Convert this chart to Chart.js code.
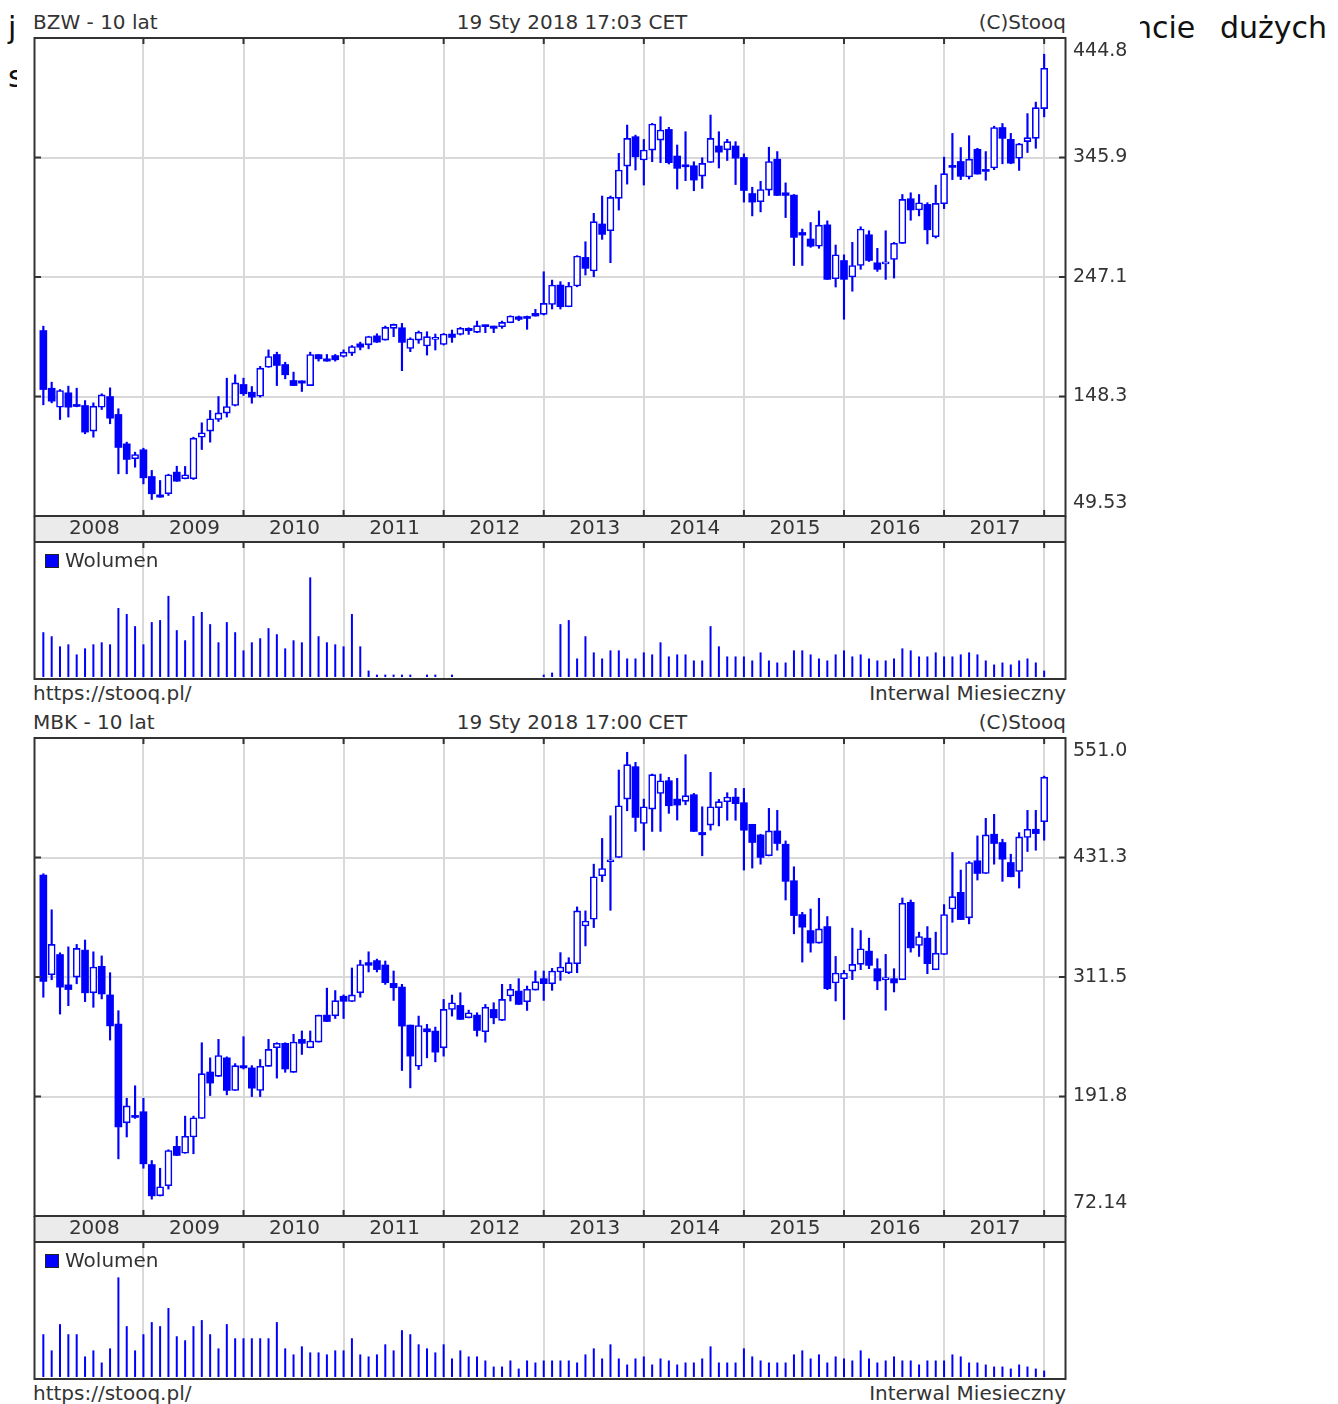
<!DOCTYPE html>
<html>
<head>
<meta charset="utf-8">
<script src="https://cdn.jsdelivr.net/npm/chart.js@4.4.1/dist/chart.umd.min.js"></script>
<style>
  body { margin: 0; width: 1338px; height: 1404px; position: relative; overflow: hidden; background: #fff; font-family: 'DejaVu Sans'; }
  .bg { position: absolute; font-size: 30px; line-height: 30px; color: #111; white-space: nowrap; }
  .sheet { position: absolute; left: 17px; top: 0; width: 1123px; height: 1404px; background: #fff; }
  .t { position: absolute; font-size: 20px; line-height: 20px; color: #333; white-space: nowrap; }
  .box { position: absolute; width: 12px; height: 12px; background: #0000ff; border: 1px solid #222; }
  canvas { position: absolute; left: 0; }
</style>
</head>
<body>
<div class="bg" style="left:8px;top:13px">j</div>
<div class="bg" style="left:8px;top:62px">s</div>
<div class="bg" style="left:1133px;top:13px">ncie</div>
<div class="bg" style="left:1220px;top:13px">dużych</div>
<div class="sheet"></div>

<div class="t" style="left:33px;top:12px">BZW - 10 lat</div>
<div class="t" style="left:572px;top:12px;transform:translateX(-50%)">19 Sty 2018 17:03 CET</div>
<div class="t" style="right:272px;top:12px">(C)Stooq</div>
<canvas id="bzwPrice" width="1140" height="511" style="top:30px"></canvas>
<canvas id="bzwVol" width="1140" height="140" style="top:541px"></canvas>
<div class="box" style="left:45px;top:554px"></div>
<div class="t" style="left:65px;top:550px">Wolumen</div>
<div class="t" style="left:33px;top:683px">https://stooq.pl/</div>
<div class="t" style="right:272px;top:683px">Interwal Miesieczny</div>

<div class="t" style="left:33px;top:712px">MBK - 10 lat</div>
<div class="t" style="left:572px;top:712px;transform:translateX(-50%)">19 Sty 2018 17:00 CET</div>
<div class="t" style="right:272px;top:712px">(C)Stooq</div>
<canvas id="mbkPrice" width="1140" height="511" style="top:730px"></canvas>
<canvas id="mbkVol" width="1140" height="140" style="top:1241px"></canvas>
<div class="box" style="left:45px;top:1254px"></div>
<div class="t" style="left:65px;top:1250px">Wolumen</div>
<div class="t" style="left:33px;top:1383px">https://stooq.pl/</div>
<div class="t" style="right:272px;top:1383px">Interwal Miesieczny</div>

<script>
const BLUE = '#0000ff';
const GRID = '#d9d9d9';
const FRAME = '#333333';

// months 0..120 = Jan 2008 .. Jan 2018
const yearTicks = [0, 12, 24, 36, 48, 60, 72, 84, 96, 108, 120];
const yearLabels = ['2008', '2009', '2010', '2011', '2012', '2013', '2014', '2015', '2016', '2017', ''];
const xMin = -1;
const xMax = 122.5;

// BZW monthly candles
const bzwOpen = [202.9,155.2,139.5,151.4,141.7,140.9,119.7,139.5,148.3,133.5,109.2,96.8,104.3,82.2,67.0,67.9,85.8,80.3,80.3,114.7,
  119.7,129.3,134.6,140.9,158.3,151.9,148.6,172.6,183.1,174.8,161.6,161.3,157.4,183.0,179.5,182.2,181.4,184.2,191.9,191.1,
  198.5,195.0,204.7,205.2,188.1,195.0,190.1,195.6,191.4,200.0,199.7,204.7,201.4,206.6,206.6,206.1,209.4,214.3,214.3,217.1,
  216.3,224.5,240.5,222.6,239.7,263.4,252.1,291.0,285.4,312.2,338.9,363.2,343.9,352.1,360.4,369.2,347.2,339.7,339.2,330.6,
  341.9,355.5,352.3,355.5,346.0,316.2,309.4,319.0,344.6,316.8,314.9,284.0,278.6,272.6,290.3,245.8,260.8,247.2,256.7,282.1,
  258.9,258.0,261.6,275.0,311.9,302.6,307.2,280.5,307.8,339.4,342.7,329.9,352.8,335.9,337.3,370.8,361.0,345.4,359.1,361.8,
  386.4];
const bzwHigh = [206.5,160.2,154.1,156.9,155.2,145.0,143.1,150.6,155.5,138.2,110.6,102.3,105.6,87.2,78.9,84.1,90.7,90.5,114.7,126.6,
  136.8,148.3,163.5,166.3,163.5,156.6,173.2,186.9,185.0,176.7,168.5,161.3,185.0,183.1,183.1,183.1,186.9,190.5,193.3,198.2,
  200.2,206.6,208.3,208.8,196.9,202.5,201.9,200.0,200.5,203.3,205.5,205.2,210.7,207.4,206.6,210.7,215.1,214.9,214.9,220.4,
  251.5,244.6,243.3,242.7,264.8,276.3,299.8,314.1,314.1,349.4,372.8,364.5,360.9,374.2,379.7,370.9,356.3,367.3,342.5,345.8,
  381.1,367.3,361.0,359.1,349.0,321.4,326.3,354.5,350.9,325.0,315.4,286.8,292.2,301.8,293.6,273.6,265.5,275.8,288.7,285.4,
  270.9,285.4,275.8,315.4,316.8,315.4,308.6,323.1,346.3,365.9,354.2,364.0,353.6,350.9,371.9,374.1,365.9,357.7,382.3,391.8,
  431.4];
const bzwLow = [141.5,143.1,129.3,131.3,139.8,117.5,114.7,137.6,125.8,84.4,84.4,89.9,76.1,63.2,65.0,66.5,78.2,80.2,79.7,104.5,
  110.6,127.7,131.3,140.5,149.2,142.8,147.8,172.4,157.4,163.0,157.3,152.5,157.3,177.6,177.5,177.6,180.9,182.2,186.9,187.8,
  193.0,194.9,197.8,169.7,185.4,192.3,182.6,186.8,190.9,193.1,199.2,199.7,201.1,201.1,201.1,204.7,209.3,211.0,203.9,214.8,
  215.7,220.7,220.7,222.5,239.1,248.8,247.4,278.3,259.0,302.5,324.0,335.6,323.2,342.5,341.7,340.6,319.9,326.8,318.5,320.4,
  341.8,337.3,343.5,323.6,309.1,297.7,301.0,314.6,314.5,296.3,256.7,256.7,271.7,270.9,245.1,238.9,212.2,235.4,253.5,260.0,
  251.8,245.2,246.3,274.9,294.1,297.7,274.5,279.4,303.7,327.7,327.7,328.2,332.2,327.2,335.9,340.8,340.8,335.3,350.1,353.6,
  379.6];
const bzwClose = [154.1,144.5,153.3,139.5,140.1,118.9,140.4,149.7,130.4,106.2,96.3,100.4,81.1,67.9,65.1,83.6,78.3,83.6,113.9,118.3,
  129.9,134.8,140.1,159.6,150.6,147.8,171.8,181.4,174.0,166.3,157.4,159.4,183.1,179.5,177.6,178.7,185.0,189.7,189.1,198.0,
  193.3,205.5,208.0,193.1,196.1,201.4,197.8,196.9,200.0,197.2,204.7,202.8,206.9,206.1,204.7,209.6,214.9,212.1,212.9,214.9,
  225.3,240.5,222.6,239.7,264.5,254.3,292.9,282.4,313.0,335.6,361.8,346.6,352.1,373.6,368.7,341.7,337.0,338.3,327.3,341.1,
  361.8,350.4,359.1,345.4,318.7,309.1,319.5,342.7,314.6,314.6,279.9,281.8,272.6,290.0,245.2,265.5,245.2,256.7,286.8,260.8,
  253.5,258.9,275.0,311.3,302.6,308.6,286.2,308.0,332.6,337.8,330.4,344.6,332.3,334.5,370.8,361.8,341.3,357.2,362.4,387.2,
  419.7];
const bzwVolume = [133,121,91,97,67,85,97,103,97,205,187,151,97,163,169,241,139,109,181,193,
  157,103,163,133,79,103,115,145,127,85,109,103,296,121,103,97,91,187,91,19,
  7,7,7,7,7,0,7,7,0,7,0,0,0,0,0,0,0,0,0,0,
  7,13,157,169,55,121,73,55,79,79,55,55,73,67,103,61,67,67,49,49,
  151,91,61,61,61,49,73,49,43,43,79,79,67,55,49,67,79,61,67,55,
  49,49,55,85,79,61,61,73,61,61,67,73,67,49,37,43,37,49,55,43,
  19];
const bzwMin = 49.53;
const bzwMax = 444.8;
const bzwAxis = ['49.53', '148.3', '247.1', '345.9', '444.8'];

// MBK monthly candles
const mbkOpen = [413.7,313.9,334.1,303.7,311.5,338.5,295.7,322.3,293.6,264.3,165.5,172.6,176.6,123.7,92.3,102.4,141.9,135.1,151.3,169.9,
  216.4,212.0,230.6,197.9,222.8,220.5,197.9,222.1,240.7,245.1,216.1,249.1,240.7,246.4,273.4,272.7,292.3,287.0,295.7,326.0,
  328.0,323.6,305.2,301.5,263.4,222.2,259.7,257.4,240.6,279.1,283.1,270.7,273.4,256.7,279.1,268.1,292.5,297.5,286.8,298.5,
  309.9,304.9,316.6,315.9,324.9,362.7,369.4,412.9,427.0,431.3,489.8,522.3,465.4,479.8,495.5,508.2,489.8,487.5,494.2,456.4,
  463.7,481.2,487.2,491.8,486.2,464.5,453.9,433.0,457.9,444.6,408.0,374.1,358.1,345.5,362.1,305.6,309.9,317.5,324.2,337.5,
  319.9,308.9,309.9,308.9,386.4,343.2,350.5,318.9,334.2,379.7,396.4,370.8,428.0,415.3,454.6,446.3,426.3,417.3,451.3,459.6,
  467.2];
const mbkHigh = [415.0,378.9,335.8,341.8,344.2,348.6,336.8,332.7,315.9,277.8,190.1,202.6,190.1,127.7,120.0,138.5,152.0,172.2,172.2,245.7,
  230.6,249.1,231.6,224.8,251.8,222.8,228.9,249.1,245.7,245.7,254.2,257.5,257.5,273.4,300.4,298.0,293.6,320.6,328.4,336.8,
  329.5,327.6,317.6,304.2,263.4,272.4,264.1,261.4,289.1,293.5,295.8,278.4,275.8,284.1,285.8,304.2,304.2,309.9,302.5,317.6,
  317.6,320.2,336.0,330.9,381.8,377.8,424.6,450.4,473.1,518.9,536.7,526.6,489.8,514.9,514.9,511.6,510.6,534.3,495.5,482.1,
  516.6,489.5,496.2,500.5,500.5,464.6,454.6,480.5,478.5,447.9,422.0,376.4,379.7,390.4,372.1,332.2,318.2,360.5,358.1,350.5,
  329.9,334.2,319.9,390.7,388.7,356.5,362.1,356.5,384.1,436.3,418.7,427.3,452.9,470.5,474.5,449.6,434.6,456.2,478.5,478.5,
  512.8];
const mbkLow = [291.3,308.8,274.4,282.8,304.8,286.9,281.2,289.6,248.4,129.4,151.3,169.9,120.0,89.0,92.2,99.1,132.7,135.0,134.5,169.8,
  192.8,211.9,193.5,197.8,219.4,191.8,191.8,222.0,210.3,216.1,216.0,234.0,240.6,246.3,266.9,270.0,270.0,286.9,291.3,316.6,
  316.6,304.2,288.1,217.9,200.5,218.9,230.6,226.6,232.3,272.4,269.0,270.6,252.3,246.3,264.7,268.0,287.5,284.0,278.1,298.4,
  288.1,298.2,308.2,314.9,315.9,342.7,361.1,407.2,378.4,431.2,478.1,457.4,438.7,457.4,457.4,475.5,468.8,484.1,457.3,433.0,
  458.7,462.9,468.6,468.6,418.7,420.7,424.6,432.9,438.6,388.7,354.8,326.5,336.5,345.4,298.9,287.6,269.0,308.9,318.9,319.9,
  298.9,278.3,296.6,308.8,336.5,332.2,314.9,318.8,334.1,366.4,369.0,364.8,408.7,415.2,424.6,407.4,411.9,400.7,437.3,438.6,
  448.6];
const mbkClose = [307.1,344.2,301.4,299.0,340.2,295.7,321.6,294.6,262.6,161.4,182.4,170.9,124.4,92.3,101.4,137.8,132.8,152.0,170.5,214.7,
  205.3,232.9,197.9,222.8,220.5,200.2,222.1,239.0,245.1,219.4,246.4,245.1,247.4,273.3,267.0,287.9,287.2,293.6,324.0,323.3,
  319.0,305.9,300.8,262.4,232.3,263.0,256.7,236.3,279.1,285.8,269.1,275.8,258.0,281.4,270.7,289.1,299.2,284.1,299.2,306.9,
  304.9,317.6,321.6,325.9,377.8,367.7,411.9,420.3,428.3,483.1,524.3,471.4,482.1,514.3,508.2,483.1,483.8,493.2,457.4,454.0,
  482.1,487.2,491.8,485.2,458.6,446.3,431.3,457.9,445.3,407.4,373.1,361.5,345.5,359.8,299.9,315.6,315.6,324.2,339.8,323.2,
  307.6,310.6,305.6,385.4,340.8,352.1,324.9,335.5,374.1,392.1,369.1,426.3,415.3,453.9,445.3,429.6,412.0,451.9,459.6,455.2,
  511.8];
const mbkVolume = [127,79,157,127,127,61,79,43,85,296,151,79,127,163,151,205,121,109,151,169,
  127,85,157,115,115,115,115,115,163,85,67,91,73,73,67,79,79,115,67,61,
  67,97,79,139,127,97,85,73,97,55,79,61,61,49,31,31,49,25,49,43,
  49,49,49,49,43,67,85,55,97,55,37,55,61,37,55,49,37,43,43,55,
  91,43,43,43,85,61,49,43,43,43,67,79,55,67,43,61,55,49,79,55,
  43,49,61,49,49,37,49,49,49,67,61,43,43,37,31,31,25,37,31,25,
  19];
const mbkMin = 72.14;
const mbkMax = 551.0;
const mbkAxis = ['72.14', '191.8', '311.5', '431.3', '551.0'];

// volume axis range (baseline sits slightly above the frame)
const volMin = -6;
const volMax = 404;

function candleSets(open, high, low, close) {
  const up = [], down = [], wick = [];
  open.forEach((o, i) => {
    wick.push({ x: i, y: [low[i], high[i]] });
    if (close[i] >= o) up.push({ x: i, y: [o, close[i]] });
    else down.push({ x: i, y: [close[i], o] });
  });
  return [
    { data: up, backgroundColor: '#ffffff', borderColor: BLUE, borderWidth: 1.6, borderSkipped: false, barThickness: 7, minBarLength: 2, order: 0 },
    { data: down, backgroundColor: BLUE, borderWidth: 0, barThickness: 7, minBarLength: 2, order: 0 },
    { data: wick, backgroundColor: BLUE, borderWidth: 0, barThickness: 1.5, order: 1 }
  ];
}

const yearAxis = {
  type: 'linear',
  min: xMin,
  max: xMax,
  offset: false,
  afterBuildTicks: s => { s.ticks = yearTicks.map(v => ({ value: v })); },
  grid: {
    offset: false,
    drawTicks: false,
    lineWidth: 2,
    color: c => (c.tick && c.tick.value === 0) ? 'rgba(0,0,0,0)' : GRID
  },
  border: { display: false }
};

function priceFrame(axisLabels) {
  return {
    id: 'priceFrame',
    beforeDraw(chart) {
      const { ctx, chartArea: a } = chart;
      ctx.save();
      ctx.fillStyle = '#ebebeb';
      ctx.fillRect(a.left, a.bottom, a.right - a.left, 25);
      ctx.restore();
    },
    afterDraw(chart) {
      const { ctx, chartArea: a, scales } = chart;
      const n = axisLabels.length;
      ctx.save();
      ctx.strokeStyle = FRAME;
      ctx.lineWidth = 2;
      ctx.strokeRect(a.left - 0.5, a.top, a.right - a.left + 1, a.bottom - a.top);
      ctx.beginPath();
      ctx.moveTo(a.left - 0.5, a.bottom); ctx.lineTo(a.left - 0.5, a.bottom + 25);
      ctx.moveTo(a.right + 0.5, a.bottom); ctx.lineTo(a.right + 0.5, a.bottom + 25);
      scales.x.ticks.forEach(t => {
        if (t.value === 0) return;
        const x = scales.x.getPixelForValue(t.value);
        ctx.moveTo(x, a.top); ctx.lineTo(x, a.top + 6);
        ctx.moveTo(x, a.bottom); ctx.lineTo(x, a.bottom - 6);
      });
      scales.y.ticks.forEach((t, k) => {
        if (k === 0 || k === n - 1) return;
        const y = scales.y.getPixelForValue(t.value);
        ctx.moveTo(a.left, y); ctx.lineTo(a.left + 6, y);
        ctx.moveTo(a.right, y); ctx.lineTo(a.right - 6, y);
      });
      ctx.stroke();

      // right axis labels, edge labels pulled inside the frame
      ctx.fillStyle = '#333';
      ctx.font = '19px "DejaVu Sans"';
      ctx.textAlign = 'left';
      ctx.textBaseline = 'middle';
      scales.y.ticks.forEach((t, k) => {
        let y = scales.y.getPixelForValue(t.value);
        if (k === 0) y -= 13;
        if (k === n - 1) y += 13;
        ctx.fillText(axisLabels[k], a.right + 8, y);
      });
      ctx.restore();
    }
  };
}

const volumeFrame = {
  id: 'volumeFrame',
  afterDraw(chart) {
    const { ctx, chartArea: a, scales } = chart;
    ctx.save();
    ctx.strokeStyle = FRAME;
    ctx.lineWidth = 2;
    ctx.strokeRect(a.left - 0.5, a.top + 1, a.right - a.left + 1, a.bottom - a.top - 1);
    ctx.beginPath();
    scales.x.ticks.forEach(t => {
      if (t.value === 0) return;
      const x = scales.x.getPixelForValue(t.value);
      ctx.moveTo(x, a.top); ctx.lineTo(x, a.top + 7);
    });
    ctx.stroke();
    ctx.restore();
  }
};

function drawPrice(id, sets, min, max, axisLabels) {
  new Chart(document.getElementById(id), {
    type: 'bar',
    data: { datasets: sets },
    options: {
      responsive: false,
      animation: false,
      devicePixelRatio: 1,
      layout: { padding: { left: 35, top: 8, right: 0, bottom: 0 } },
      datasets: { bar: { grouped: false } },
      plugins: { legend: { display: false }, tooltip: { enabled: false } },
      scales: {
        x: {
          ...yearAxis,
          afterFit: s => { s.height = 25; },
          ticks: {
            autoSkip: false,
            maxRotation: 0,
            labelOffset: 51,
            padding: 1,
            color: '#333',
            font: { family: 'DejaVu Sans', size: 20 },
            callback: v => yearLabels[yearTicks.indexOf(v)]
          }
        },
        y: {
          position: 'right',
          min: min,
          max: max,
          afterBuildTicks: s => {
            s.ticks = axisLabels.map((_, k) => ({ value: min + k * (max - min) / (axisLabels.length - 1) }));
          },
          afterFit: s => { s.width = 75; },
          grid: {
            drawTicks: false,
            lineWidth: 2,
            color: c => (c.index === 0 || c.index === axisLabels.length - 1) ? 'rgba(0,0,0,0)' : GRID
          },
          border: { display: false },
          ticks: { display: false }
        }
      }
    },
    plugins: [priceFrame(axisLabels)]
  });
}

function drawVolume(id, volume) {
  new Chart(document.getElementById(id), {
    type: 'bar',
    data: {
      datasets: [{
        // months without trading get no bar at all
        data: volume.map((v, i) => ({ x: i, y: v > 0 ? v : null })),
        backgroundColor: BLUE,
        borderWidth: 0,
        inflateAmount: 0,
        barThickness: 2
      }]
    },
    options: {
      responsive: false,
      animation: false,
      devicePixelRatio: 1,
      layout: { padding: { left: 35, top: 0, right: 75, bottom: 2 } },
      plugins: { legend: { display: false }, tooltip: { enabled: false } },
      scales: {
        x: {
          ...yearAxis,
          afterFit: s => { s.height = 0; },
          ticks: { display: false }
        },
        y: { display: false, min: volMin, max: volMax }
      }
    },
    plugins: [volumeFrame]
  });
}

drawPrice('bzwPrice', candleSets(bzwOpen, bzwHigh, bzwLow, bzwClose), bzwMin, bzwMax, bzwAxis);
drawVolume('bzwVol', bzwVolume);
drawPrice('mbkPrice', candleSets(mbkOpen, mbkHigh, mbkLow, mbkClose), mbkMin, mbkMax, mbkAxis);
drawVolume('mbkVol', mbkVolume);
</script>
</body>
</html>
